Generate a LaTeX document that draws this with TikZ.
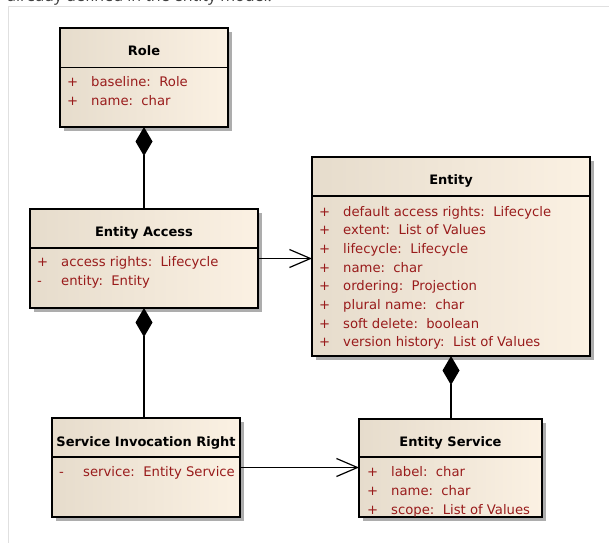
\documentclass[tikz,border=0pt]{standalone}
\usepackage{fontspec}
\setmainfont{DejaVu Sans}
\newfontfamily\notefont{Open Sans}
\usetikzlibrary{arrows.meta,shadows}
\usepackage{array}

\definecolor{attrred}{HTML}{991B1B}
\definecolor{boxleft}{HTML}{E6DCCC}
\definecolor{boxright}{HTML}{FBF1E3}
\definecolor{framegray}{HTML}{E0E0E0}

\begin{document}
\begin{tikzpicture}[x=1pt,y=-1pt,
  classbox/.style={draw=black, line width=1.3pt, left color=boxleft, right color=boxright,
    anchor=north west, inner sep=0pt, outer sep=0pt,
    general shadow={fill=black!32, shadow xshift=4pt, shadow yshift=-4pt}},
  sepline/.style={line width=1.2pt},
  classtitle/.style={anchor=base, inner sep=0pt, font=\bfseries\fontsize{13}{15}\selectfont},
  attrs/.style={anchor=base west, inner sep=0pt, text=attrred, font=\fontsize{13.2}{18.7}\selectfont},
  conn/.style={line width=1.2pt},
  comp/.style={conn, {Diamond[length=29pt,width=17pt]}-},
  assoc/.style={conn, -{Straight Barb[length=21pt,width=18pt]}}
]
\useasboundingbox (0,0) rectangle (609,543);

% caption line running off the top edge
\begin{scope}
  \clip (0,0) rectangle (609,543);
  \node[anchor=base west, inner sep=0pt, text=black!75,
        font=\notefont\fontsize{16}{18}\selectfont] (note) at (7,1.5) {already defined in the entity model.};
\end{scope}

% diagram frame
\draw[framegray, line width=1.4pt] (609,6.5) -- (8.5,6.5) -- (8.5,543);

% class boxes
\node[classbox, minimum width=168pt, minimum height=99pt] (role) at (60,28) {};
\node[classbox, minimum width=228pt, minimum height=99pt] (ea) at (30,209) {};
\node[classbox, minimum width=278pt, minimum height=199pt] (entity) at (312,157) {};
\node[classbox, minimum width=188pt, minimum height=99pt] (sir) at (52,418) {};
\node[classbox, minimum width=183pt, minimum height=98pt] (es) at (359,419) {};

% title compartments
\draw[sepline] (role.west |- 0,67.5) -- (role.east |- 0,67.5);
\draw[sepline] (ea.west |- 0,248) -- (ea.east |- 0,248);
\draw[sepline] (entity.west |- 0,196) -- (entity.east |- 0,196);
\draw[sepline] (sir.west |- 0,457) -- (sir.east |- 0,457);
\draw[sepline] (es.west |- 0,457) -- (es.east |- 0,457);

\node[classtitle] (role-title) at (144,56) {Role};
\node[classtitle] (ea-title) at (144,236) {Entity Access};
\node[classtitle] (entity-title) at (451,184.5) {Entity};
\node[classtitle] (sir-title) at (146,446) {Service Invocation Right};
\node[classtitle] (es-title) at (450.5,446) {Entity Service};

% attribute compartments
\node[attrs] (role-attrs) at (67,86.7) {\begin{tabular}[t]{@{}p{24pt}@{}l@{}}
+ & baseline:~~Role\\
+ & name:~~char
\end{tabular}};
\node[attrs] (ea-attrs) at (37,266.7) {\begin{tabular}[t]{@{}p{24pt}@{}l@{}}
+ & access rights:~~Lifecycle\\
- & entity:~~Entity
\end{tabular}};
\node[attrs] (entity-attrs) at (319,216) {\begin{tabular}[t]{@{}p{24pt}@{}l@{}}
+ & default access rights:~~Lifecycle\\
+ & extent:~~List of Values\\
+ & lifecycle:~~Lifecycle\\
+ & name:~~char\\
+ & ordering:~~Projection\\
+ & plural name:~~char\\
+ & soft delete:~~boolean\\
+ & version history:~~List of Values
\end{tabular}};
\node[attrs] (sir-attrs) at (59,476.7) {\begin{tabular}[t]{@{}p{24pt}@{}l@{}}
- & service:~~Entity Service
\end{tabular}};
\node[attrs] (es-attrs) at (367,476.7) {\begin{tabular}[t]{@{}p{24pt}@{}l@{}}
+ & label:~~char\\
+ & name:~~char\\
+ & scope:~~List of Values
\end{tabular}};

% relationships
\draw[comp] (role.south) -- (ea.north);
\draw[comp] (ea.south) -- (ea.south |- sir.north);
\draw[comp] (entity.south) -- (entity.south |- es.north);
\draw[assoc] (ea.east) -- (ea.east -| entity.west);
\draw[assoc] (sir.east) -- (sir.east -| es.west);
\end{tikzpicture}
\end{document}
